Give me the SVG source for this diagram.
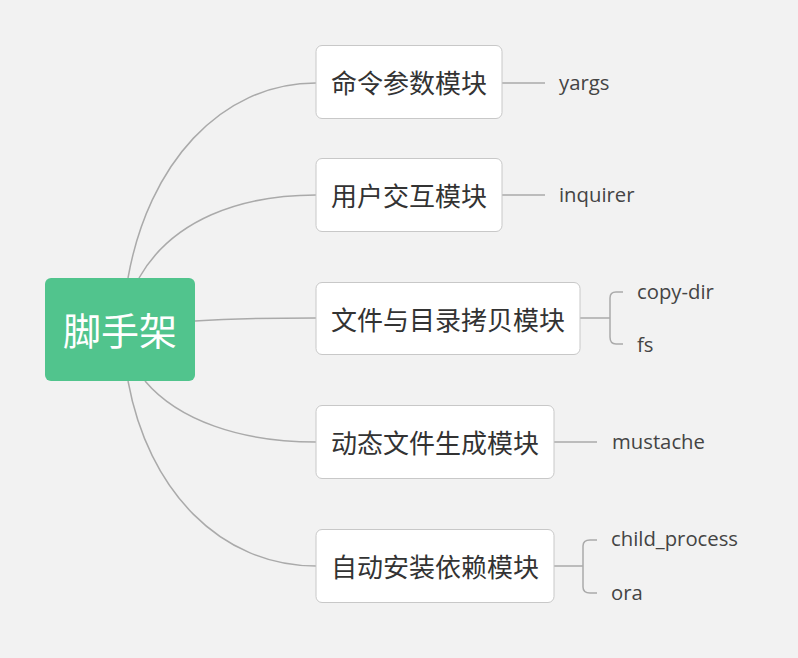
<svg xmlns="http://www.w3.org/2000/svg" width="798" height="658" viewBox="0 0 798 658">
<style>
.bg{fill:#f2f2f2}
.box{fill:#ffffff;stroke:#c8c8c8;stroke-width:1}
.t{font-family:"Noto Sans CJK SC","Noto Sans",sans-serif;font-size:26px;fill:#333333;dominant-baseline:central}
.leaf{font-family:"Open Sans","Noto Sans",sans-serif;font-size:20.3px;fill:#444444;dominant-baseline:central}
.c{fill:none;stroke:#aaaaaa;stroke-width:1.5}
.root{fill:#51c48d}
.rt{font-family:"Noto Sans CJK SC",sans-serif;font-size:38px;fill:#ffffff;dominant-baseline:central;text-anchor:middle}
</style>
<rect class="bg" x="0" y="0" width="798" height="658"/>
<g id="connectors">
<path class="c" d="M128,278 C148,165 220,83 316,83"/>
<path class="c" d="M139,278 C172,220 240,195 316,195"/>
<path class="c" d="M195,321 C240,318 270,318 316,318"/>
<path class="c" d="M145,381 C178,420 240,442 316,442"/>
<path class="c" d="M128,381 C148,490 220,566 316,566"/>
<path class="c" d="M502,83 H545"/>
<path class="c" d="M502,195 H545"/>
<path class="c" d="M580,318 H610 M623,292 H616 Q610,292 610,298 V337 Q610,344 616,344 H623"/>
<path class="c" d="M554,442 H597"/>
<path class="c" d="M554,566 H583 M597,540 H590 Q583,540 583,546 V587 Q583,593 590,593 H597"/>
</g>
<g id="root">
<rect class="root" x="45" y="278" width="150" height="103" rx="6"/>
<text class="rt" x="120" y="328">脚手架</text>
</g>
<g id="n1">
<rect class="box" x="316" y="45.5" width="186" height="73" rx="6"/>
<text class="t" x="331" y="81">命令参数模块</text>
</g>
<g id="n2">
<rect class="box" x="316" y="158.5" width="186" height="73" rx="6"/>
<text class="t" x="331" y="194">用户交互模块</text>
</g>
<g id="n3">
<rect class="box" x="316" y="282.5" width="264" height="72" rx="6"/>
<text class="t" x="331" y="318">文件与目录拷贝模块</text>
</g>
<g id="n4">
<rect class="box" x="316" y="405.5" width="238" height="73" rx="6"/>
<text class="t" x="331" y="441">动态文件生成模块</text>
</g>
<g id="n5">
<rect class="box" x="316" y="529.5" width="238" height="73" rx="6"/>
<text class="t" x="331" y="565">自动安装依赖模块</text>
</g>
<g id="leaves">
<text class="leaf" x="559" y="82">yargs</text>
<text class="leaf" x="559" y="194">inquirer</text>
<text class="leaf" x="637" y="291">copy-dir</text>
<text class="leaf" x="637" y="344">fs</text>
<text class="leaf" x="612" y="441">mustache</text>
<text class="leaf" x="611" y="538">child_process</text>
<text class="leaf" x="611" y="592">ora</text>
</g>
</svg>
